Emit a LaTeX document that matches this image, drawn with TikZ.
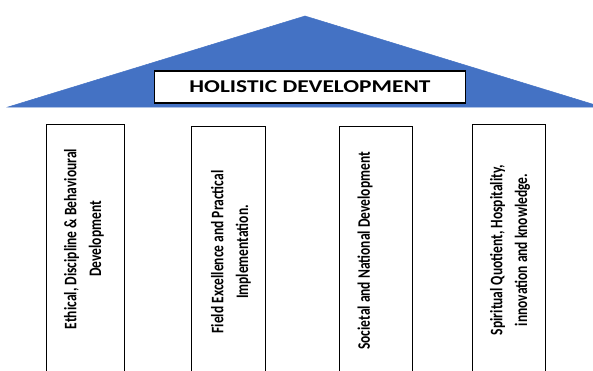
\documentclass[tikz,border=0pt]{standalone}
\usepackage{fontspec}
\setmainfont{Carlito}
\usetikzlibrary{positioning}
\definecolor{roofblue}{HTML}{4472C4}
\tikzset{
roof/.style={fill=roofblue, draw=roofblue, line width=0.5pt},
titlebox/.style={draw, line width=1.2pt, fill=white, minimum width=311pt, minimum height=32pt, inner sep=0pt},
titletext/.style={xscale=1.3, inner sep=0pt, font=\bfseries\fontsize{18}{20}\selectfont},
pillar/.style={draw, line width=1pt, fill=white, anchor=north west, minimum height=250pt, inner sep=0pt},
pillartext/.style={rotate=90, yscale=1.3, align=center, inner sep=0pt, font=\bfseries\fontsize{13.5}{19}\selectfont},
}
\begin{document}
\begin{tikzpicture}[x=1pt, y=-1pt]
    \useasboundingbox (0,0) rectangle (593,370);
    % roof
    \coordinate (apex) at (305,16);
    \coordinate (eaveL) at (8,107);
    \coordinate (eaveR) at (602,107);
    \fill[roof] (eaveL) -- (apex) -- (eaveR) -- cycle;
    \node[titlebox] (title) at (310,87) {};
    \node[titletext] (titlelabel) at (title.center) {HOLISTIC DEVELOPMENT};
    % pillars
    \node[pillar, minimum width=78pt] (p1) at (46,124) {};
    \node[pillar, minimum width=74pt] (p2) at (191,126) {};
    \node[pillar, minimum width=73pt] (p3) at (339,126) {};
    \node[pillar, minimum width=73pt] (p4) at (472,124) {};
    \node[pillartext] (t1) at (84,239) {Ethical, Discipline \& Behavioural\\Development};
    \node[pillartext] (t2) at (231,252) {Field Excellence and Practical\\Implementation.};
    \node[pillartext] (t3) at (365,251) {Societal and National Development};
    \node[pillartext] (t4) at (510,250) {Spiritual Quotient, Hospitality,\\innovation and knowledge.};
\end{tikzpicture}
\end{document}
